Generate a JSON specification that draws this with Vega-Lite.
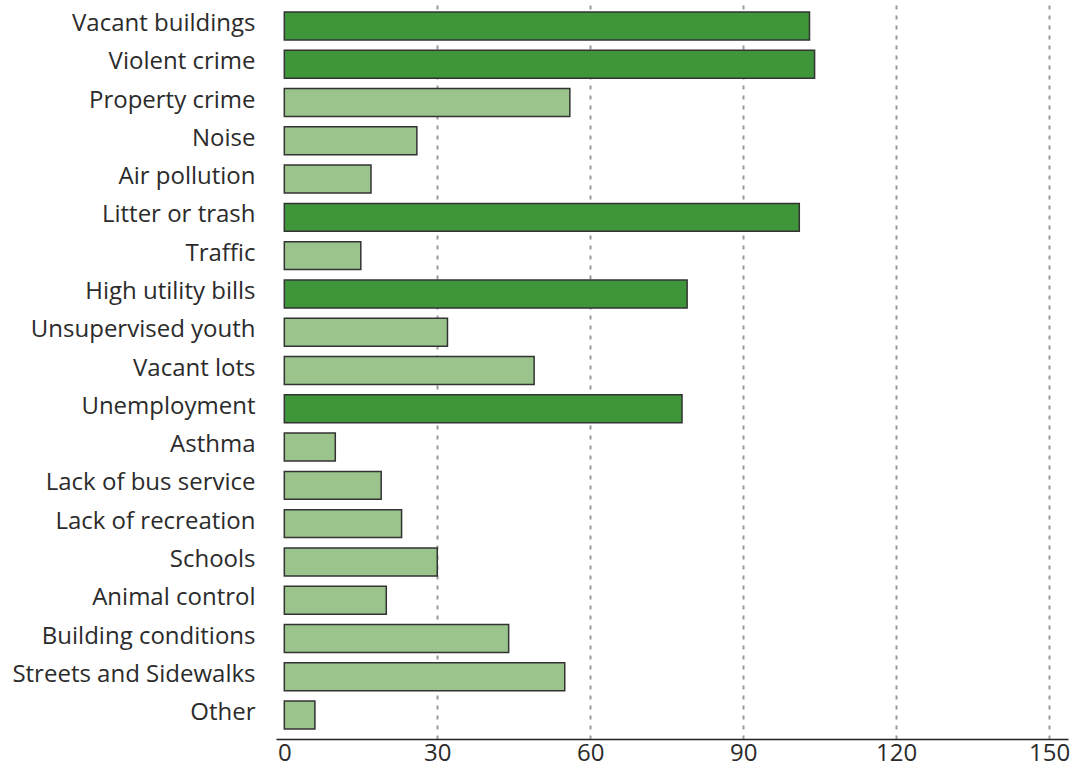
{
  "$schema": "https://vega.github.io/schema/vega-lite/v6.json",
  "width": 792,
  "height": 737,
  "autosize": {"type": "none"},
  "padding": {"left": 276, "top": 2, "right": 8, "bottom": 30},
  "background": "white",
  "config": {"view": {"stroke": null}, "font": "Open Sans"},
  "data": {"values": [
    {"issue": "Vacant buildings", "count": 103, "group": "major"},
    {"issue": "Violent crime", "count": 104, "group": "major"},
    {"issue": "Property crime", "count": 56, "group": "minor"},
    {"issue": "Noise", "count": 26, "group": "minor"},
    {"issue": "Air pollution", "count": 17, "group": "minor"},
    {"issue": "Litter or trash", "count": 101, "group": "major"},
    {"issue": "Traffic", "count": 15, "group": "minor"},
    {"issue": "High utility bills", "count": 79, "group": "major"},
    {"issue": "Unsupervised youth", "count": 32, "group": "minor"},
    {"issue": "Vacant lots", "count": 49, "group": "minor"},
    {"issue": "Unemployment", "count": 78, "group": "major"},
    {"issue": "Asthma", "count": 10, "group": "minor"},
    {"issue": "Lack of bus service", "count": 19, "group": "minor"},
    {"issue": "Lack of recreation", "count": 23, "group": "minor"},
    {"issue": "Schools", "count": 30, "group": "minor"},
    {"issue": "Animal control", "count": 20, "group": "minor"},
    {"issue": "Building conditions", "count": 44, "group": "minor"},
    {"issue": "Streets and Sidewalks", "count": 55, "group": "minor"},
    {"issue": "Other", "count": 6, "group": "minor"}
  ]},
  "mark": {"type": "bar", "stroke": "#333333", "strokeWidth": 1.5},
  "encoding": {
    "y": {
      "field": "issue", "type": "nominal", "sort": null,
      "scale": {"paddingInner": 0.27, "paddingOuter": 0.26},
      "axis": {
        "title": null, "ticks": false, "tickSize": 0, "domain": false,
        "labelPadding": 21, "labelFontSize": 24, "labelColor": "#2b2b2b", "labelFont": "Open Sans",
        "labelLimit": 0, "labelOffset": -2
      }
    },
    "x": {
      "field": "count", "type": "quantitative",
      "scale": {"domain": [-1.63, 153.7], "nice": false, "zero": false},
      "axis": {
        "title": null, "values": [0, 30, 60, 90, 120, 150],
        "ticks": false, "tickSize": 0, "labelPadding": 2,
        "labelFontSize": 24, "labelColor": "#2b2b2b", "labelFont": "Open Sans",
        "labelFlush": false,
        "domainColor": "#222222", "domainWidth": 1.5,
        "grid": true, "gridColor": "#999999", "gridWidth": 2, "gridDash": [4, 6],
        "gridOpacity": {"condition": {"test": "datum.value === 0", "value": 0}, "value": 1}
      }
    },
    "color": {
      "field": "group", "type": "nominal",
      "scale": {"domain": ["major", "minor"], "range": ["#3f963a", "#9bc38c"]},
      "legend": null
    }
  }
}
